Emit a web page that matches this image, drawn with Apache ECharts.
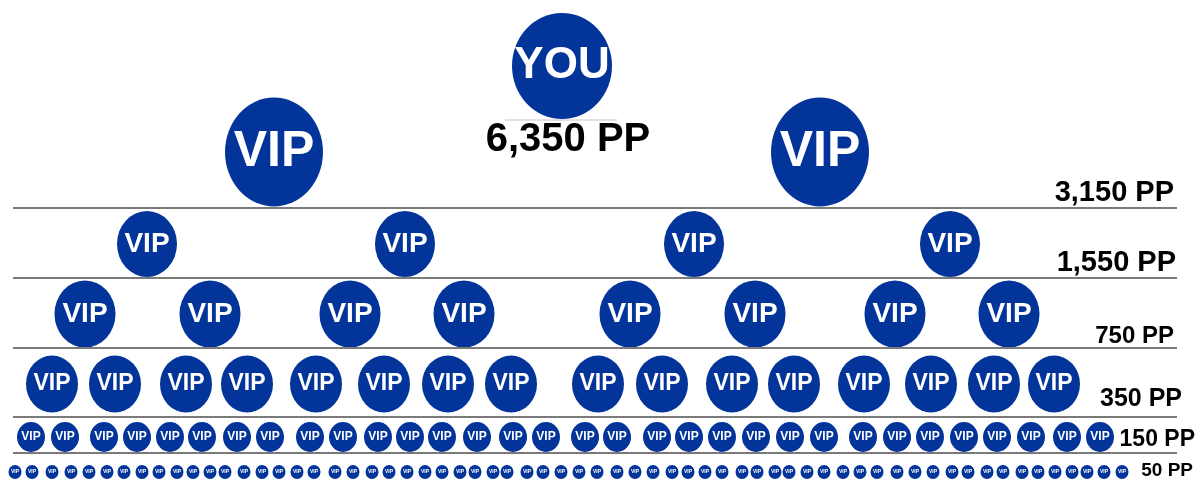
<!DOCTYPE html>
<html>
<head>
<meta charset="utf-8">
<script src="https://cdn.jsdelivr.net/npm/echarts@6/dist/echarts.min.js"></script>
<style>
  html, body { margin: 0; padding: 0; background: #ffffff; }
  #chart { width: 1199px; height: 484px; }
</style>
</head>
<body>
<div id="chart"></div>
<script>
// ---- data ----
const nodeNames = ['YOU', 'VIP', 'VIP', 'VIP', 'VIP', 'VIP', 'VIP'];
const tierLabels = ['6,350 PP', '3,150 PP', '1,550 PP', '750 PP', '350 PP', '150 PP', '50 PP'];
// level rows (vertical axis units)
const rowY = [66, 152, 244, 314, 384, 437, 472];
// separators between levels
const dividerY = [207.5, 277.5, 348, 416.5, 452.5];
// node positions per level (horizontal axis units)
const level0 = [562];
const level1 = [274, 820];
const level2 = [147, 405, 694, 950];
const level3 = [85, 210, 350, 464, 630, 755, 895, 1009];
const level4 = [52, 115, 186, 247, 316, 384, 448, 511, 598, 662, 732, 794, 864, 931, 994, 1054];
const level5 = [31, 65, 104, 137, 170, 202, 237, 270, 310, 343, 378, 410, 442, 477, 513, 546,
                585, 617, 657, 689, 722, 756, 790, 824, 863, 897, 930, 964, 997, 1031, 1067, 1100];
const level6 = [15, 32, 52, 71, 89, 107, 124, 142, 159, 177, 193, 210, 225, 244, 262, 279,
                297, 314, 335, 353, 372, 389, 407, 425, 442, 460, 475, 493, 507, 527, 543, 561,
                579, 597, 617, 635, 653, 672, 688, 705, 722, 742, 757, 775, 789, 807, 824, 843,
                860, 877, 897, 915, 933, 952, 968, 987, 1003, 1022, 1038, 1055, 1072, 1087, 1104, 1122];
const levels = [level0, level1, level2, level3, level4, level5, level6];

// ---- styles ----
const BLUE = '#02349a';
const FONT = "'Liberation Sans', Arial, sans-serif";
const symbolSizes = [[100, 106], [98, 109], [60, 66], [61, 67], [52, 57], [28, 30], [13, 14]];
const innerFont = [44, 50, 28, 28, 23, 12, 5];
const ellipse = 'path://M0,50 A50,50 0 1,1 100,50 A50,50 0 1,1 0,50 Z';
// tier label anchors
const tierAnchor = [[568, 139.5, 'center', 40], [1174, 192.5, 'right', 29], [1176, 262.5, 'right', 29],
                    [1174, 336, 'right', 24], [1182, 399, 'right', 25], [1195, 440, 'right', 23],
                    [1193, 470.5, 'right', 19]];

const series = [];
levels.forEach((xs, i) => {
  series.push({
    type: 'scatter',
    name: 'level' + i,
    symbol: ellipse,
    symbolSize: symbolSizes[i],
    itemStyle: { color: BLUE, opacity: 1 },
    silent: true,
    z: 3,
    label: {
      show: true,
      position: 'inside',
      formatter: nodeNames[i],
      color: '#ffffff',
      opacity: 1,
      fontFamily: FONT,
      fontWeight: 'bold',
      fontSize: innerFont[i]
    },
    data: xs.map(x => [x, rowY[i]])
  });
});

// tier labels
series.push({
  type: 'scatter',
  name: 'tiers',
  symbolSize: 0,
  silent: true,
  itemStyle: { opacity: 1 },
  data: tierLabels.map((t, i) => ({
    value: [tierAnchor[i][0], tierAnchor[i][1]],
    label: {
      show: true,
      position: [0, 0],
      formatter: t,
      align: tierAnchor[i][2],
      verticalAlign: 'middle',
      fontSize: tierAnchor[i][3],
      fontWeight: 'bold',
      fontFamily: FONT,
      color: '#000000',
      opacity: 1
    }
  })),
  markLine: {
    silent: true,
    symbol: 'none',
    label: { show: false },
    lineStyle: { color: '#7a7a7a', width: 2, type: 'solid', opacity: 1 },
    data: dividerY.map(y => [{ coord: [13, y] }, { coord: [1177, y] }])
  }
});

// faint line under YOU
series.push({
  type: 'scatter',
  name: 'faint',
  symbolSize: 0,
  silent: true,
  data: [],
  markLine: {
    silent: true,
    symbol: 'none',
    label: { show: false },
    lineStyle: { color: '#e2e2e2', width: 2, type: 'solid', opacity: 1 },
    data: [[{ coord: [505, 120] }, { coord: [617, 120] }]]
  }
});

const chart = echarts.init(document.getElementById('chart'), null, { renderer: 'canvas' });
chart.setOption({
  animation: false,
  backgroundColor: '#ffffff',
  grid: { left: 0, right: 0, top: 0, bottom: 0 },
  xAxis: { type: 'value', min: 0, max: 1199, show: false },
  yAxis: { type: 'value', min: 0, max: 484, inverse: true, show: false },
  series: series
});
</script>
</body>
</html>
